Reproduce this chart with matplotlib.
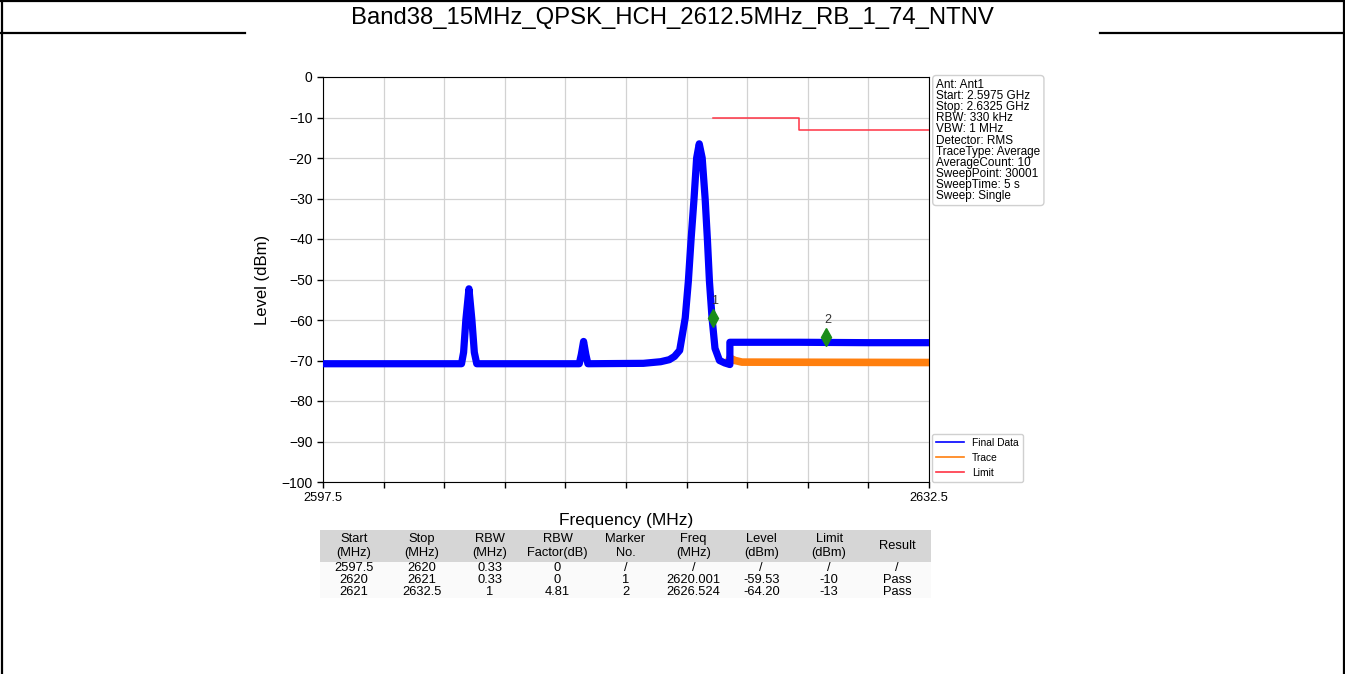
import matplotlib.pyplot as plt
from matplotlib.lines import Line2D
import numpy as np

plt.rcParams['font.family'] = ['Liberation Sans', 'DejaVu Sans']

title = "Band38_15MHz_QPSK_HCH_2612.5MHz_RB_1_74_NTNV"

# Final Data (blue): MHz / dBm
final_freq = [2597.5, 2605.5, 2605.62, 2605.75, 2605.93, 2606.1, 2606.24, 2606.38,
              2612.3, 2612.42, 2612.55, 2612.68, 2612.8,
              2616.0, 2617.0, 2617.5, 2617.8, 2618.1, 2618.42, 2618.6, 2618.76,
              2618.93, 2619.08, 2619.23, 2619.4, 2619.57, 2619.7, 2619.82, 2619.97,
              2620.14, 2620.4, 2620.7, 2621.0,
              2621.0, 2625.0, 2629.0, 2632.5]
final_level = [-70.8, -70.8, -68.0, -60.0, -52.3, -60.0, -68.0, -70.8,
               -70.8, -68.5, -65.3, -68.5, -70.8,
               -70.7, -70.3, -69.8, -69.0, -67.5, -59.5, -50.5, -40.0,
               -30.0, -20.0, -16.5, -20.0, -30.0, -40.0, -50.5, -59.5,
               -67.0, -70.0, -70.6, -71.0,
               -65.5, -65.5, -65.6, -65.6]

# Trace (orange), visible only where it differs from the final data
trace_freq = [2621.0, 2621.3, 2621.7, 2632.5]
trace_level = [-69.4, -70.0, -70.4, -70.5]

# Limit line (red)
limit_freq = [2620.0, 2625.0, 2625.0, 2632.5]
limit_level = [-10, -10, -13, -13]

# markers
marker_no = [1, 2]
marker_freq = [2620.001, 2626.524]
marker_level = [-59.53, -64.20]

info_lines = ["Ant: Ant1", "Start: 2.5975 GHz", "Stop: 2.6325 GHz", "RBW: 330 kHz",
              "VBW: 1 MHz", "Detector: RMS", "TraceType: Average", "AverageCount: 10",
              "SweepPoint: 30001", "SweepTime: 5 s", "Sweep: Single"]

table_header = ["Start\n(MHz)", "Stop\n(MHz)", "RBW\n(MHz)", "RBW\nFactor(dB)", "Marker\nNo.",
                "Freq\n(MHz)", "Level\n(dBm)", "Limit\n(dBm)", "Result"]
table_rows = [["2597.5", "2620", "0.33", "0", "/", "/", "/", "/", "/"],
              ["2620", "2621", "0.33", "0", "1", "2620.001", "-59.53", "-10", "Pass"],
              ["2621", "2632.5", "1", "4.81", "2", "2626.524", "-64.20", "-13", "Pass"]]

W, H = 1345, 674
fig = plt.figure(figsize=(W / 100, H / 100), dpi=100)

# document table frame
for x0, y0, x1, y1 in [(1.5, 0, 1.5, H), (W - 1.5, 0, W - 1.5, H), (0, 1, W, 1),
                       (0, 32.5, 245, 32.5), (1100, 32.5, W, 32.5)]:
    fig.add_artist(Line2D([x0 / W, x1 / W], [1 - y0 / H, 1 - y1 / H], color="black", lw=1.6))
fig.text(0.5, 1 - 18 / H, title, ha="center", va="center", fontsize=17.2)

ax = fig.add_axes([323 / W, 1 - 482 / H, 606 / W, 405 / H])
ax.plot(trace_freq, trace_level, color="#ff7f0e", lw=5.5, solid_joinstyle="round", zorder=2)
ax.plot(final_freq, final_level, color="#0000ff", lw=5.2, solid_joinstyle="round", zorder=3)
ax.plot(limit_freq, limit_level, color="#ff3344", lw=1.1, zorder=3)
ax.plot(marker_freq, marker_level, "d", color="#1a8c1a", ms=9, ls="none", zorder=5)
for n, f, l in zip(marker_no, marker_freq, marker_level):
    ax.annotate(str(n), (f, l), xytext=(1.5, 8), textcoords="offset points",
                ha="center", va="bottom", fontsize=9, color="#333333", zorder=6)

ax.set_xlim(2597.5, 2632.5)
ax.set_ylim(-100, 0)
xt = np.linspace(2597.5, 2632.5, 11)
ax.set_xticks(xt)
ax.set_xticklabels(["2597.5"] + [""] * 9 + ["2632.5"])
ax.set_yticks(np.arange(-100, 1, 10))
ax.tick_params(direction="out", length=4, width=1)
ax.tick_params(axis="x", labelsize=9.2)
ax.tick_params(axis="y", labelsize=10)
ax.grid(True, color="#d2d2d2", lw=0.9)
ax.set_axisbelow(True)
ax.set_xlabel("Frequency (MHz)", fontsize=12.5, labelpad=6)
ax.set_ylabel("Level (dBm)", fontsize=12, labelpad=8)

handles = [Line2D([], [], color="#0000ff", lw=1.2),
           Line2D([], [], color="#ff7f0e", lw=1.2),
           Line2D([], [], color="#ff3344", lw=1.2)]
ax.legend(handles, ["Final Data", "Trace", "Limit"], loc="lower left",
          bbox_to_anchor=(1.005, 0.0), borderaxespad=0, fontsize=7.4,
          handlelength=2.7, edgecolor="#d0d0d0", framealpha=1)

ax.text(1.012, 0.995, "\n".join(info_lines), transform=ax.transAxes, ha="left", va="top",
        fontsize=8.5, linespacing=0.9,
        bbox=dict(boxstyle="round,pad=0.3", fc="white", ec="#d0d0d0"))

# result table
tax = fig.add_axes([320 / W, 1 - 598 / H, 611 / W, 68 / H])
tax.axis("off")
tbl = tax.table(cellText=table_rows, colLabels=table_header, cellLoc="center", bbox=[0, 0, 1, 1])
tbl.auto_set_font_size(False)
tbl.set_fontsize(9.3)
for (r, c), cell in tbl.get_celld().items():
    cell.set_linewidth(0)
    if r == 0:
        cell.set_height(32)
        cell.set_facecolor("#d6d6d6")
    else:
        cell.set_height(12)
        cell.set_facecolor("#fafafa")

fig.savefig("out.png", dpi=100)
